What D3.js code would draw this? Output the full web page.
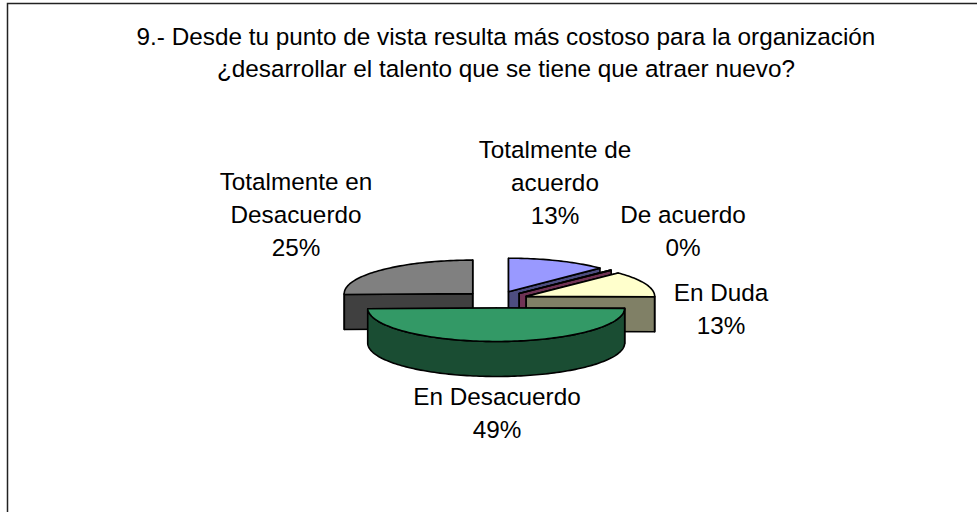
<!DOCTYPE html>
<html>
<head>
<meta charset="utf-8">
<script src="https://cdn.jsdelivr.net/npm/d3@7"></script>
<style>
html, body { margin: 0; padding: 0; background: #fff; overflow: hidden; }
text { font-family: "Liberation Sans", Arial, sans-serif; font-size: 24.3px; fill: #000; }
</style>
</head>
<body>
<script>
var width = 977
var height = 512

// chart data
const categories = ['Totalmente de acuerdo', 'De acuerdo', 'En Duda', 'En Desacuerdo', 'Totalmente en Desacuerdo']
const values = [12.6, 0.1, 12.5, 49.4, 25.4]
const titleLines = [
    '9.- Desde tu punto de vista resulta más costoso para la organización',
    '¿desarrollar el talento que se tiene que atraer nuevo?'
]
const labelLines = [
    ['Totalmente de', 'acuerdo'],
    ['De acuerdo'],
    ['En Duda'],
    ['En Desacuerdo'],
    ['Totalmente en', 'Desacuerdo']
]
const topColors = ['#9999ff', '#993366', '#ffffcc', '#339966', '#808080']
const sideColors = ['#4d4d80', '#703355', '#808066', '#1a4d33', '#404040']

// label anchor: centre x and baseline of the first line
const labelPos = [
    { x: 555, y: 158 },
    { x: 683, y: 223 },
    { x: 721, y: 301 },
    { x: 497, y: 405 },
    { x: 296, y: 190 }
]

// pie geometry
var cx = 496, cy = 299.5
var rx = 128.5, ry = 33.5
var depth = 35
var explode = 32.5
var lineStep = 33

var svg = d3.select('body').append('svg')
    .attr('width', width)
    .attr('height', height)
    .style('display', 'block')

// chart area border, right and bottom sides fall outside the crop
svg.append('rect')
    .attr('x', 7.5).attr('y', 3.5)
    .attr('width', width + 20).attr('height', height + 20)
    .attr('fill', '#fff')
    .attr('stroke', '#222')
    .attr('stroke-width', 1.5)

var title = svg.append('g').attr('class', 'title')
title.selectAll('text')
    .data(titleLines)
    .enter()
    .append('text')
    .attr('x', 506)
    .attr('y', (d, i) => 45 + i * 32)
    .attr('text-anchor', 'middle')
    .text(d => d)

var pie = d3.pie().sort(null).value(d => d)
var slices = pie(values).map(function (d, i) {
    var mid = (d.startAngle + d.endAngle) / 2
    return {
        index: i,
        start: d.startAngle,
        end: d.endAngle,
        mid: mid,
        ox: cx + explode * Math.sin(mid),
        oy: cy - explode * Math.cos(mid) * ry / rx
    }
})

function rimPoints(s, a0, a1, dy) {
    var n = Math.max(2, Math.ceil((a1 - a0) * 40))
    return d3.range(n + 1).map(function (k) {
        var a = a0 + (a1 - a0) * k / n
        return [s.ox + rx * Math.sin(a), s.oy - ry * Math.cos(a) + dy]
    })
}

var line = d3.line()

function cutFace(s, a) {
    var p = [s.ox + rx * Math.sin(a), s.oy - ry * Math.cos(a)]
    return line([[s.ox, s.oy], p, [p[0], p[1] + depth], [s.ox, s.oy + depth]]) + 'Z'
}

// back slices first
var ordered = slices.slice().sort((a, b) => Math.cos(b.mid) - Math.cos(a.mid))

var pieG = svg.append('g').attr('class', 'pie')
var groups = pieG.selectAll('g')
    .data(ordered)
    .enter()
    .append('g')
    .attr('stroke', '#000')
    .attr('stroke-width', 1.6)
    .attr('stroke-linejoin', 'round')

groups.append('path')
    .attr('d', d => cutFace(d, d.start))
    .attr('fill', d => sideColors[d.index])
groups.append('path')
    .attr('d', d => cutFace(d, d.end))
    .attr('fill', d => sideColors[d.index])

// outer wall, only the part that faces the viewer
groups.filter(d => Math.max(d.start, Math.PI / 2) < Math.min(d.end, Math.PI * 1.5))
    .append('path')
    .attr('d', function (d) {
        var a0 = Math.max(d.start, Math.PI / 2)
        var a1 = Math.min(d.end, Math.PI * 1.5)
        var pts = rimPoints(d, a0, a1, 0).concat(rimPoints(d, a0, a1, depth).reverse())
        return line(pts) + 'Z'
    })
    .attr('fill', d => sideColors[d.index])

groups.append('path')
    .attr('d', d => line([[d.ox, d.oy]].concat(rimPoints(d, d.start, d.end, 0))) + 'Z')
    .attr('fill', d => topColors[d.index])

// labels
var fmt = d3.format('.0f')
var labels = svg.append('g').attr('class', 'labels')
labels.selectAll('text')
    .data(slices)
    .enter()
    .append('text')
    .attr('text-anchor', 'middle')
    .attr('y', d => labelPos[d.index].y)
    .each(function (d) {
        var lines = labelLines[d.index].concat(fmt(values[d.index]) + '%')
        d3.select(this).selectAll('tspan')
            .data(lines)
            .enter()
            .append('tspan')
            .attr('x', labelPos[d.index].x)
            .attr('y', (t, i) => labelPos[d.index].y + i * lineStep)
            .text(t => t)
    })
</script>
</body>
</html>
